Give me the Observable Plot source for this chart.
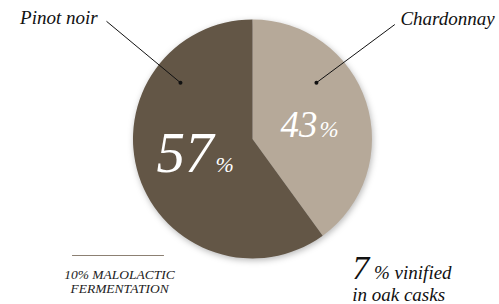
<!DOCTYPE html>
<html><head><meta charset="utf-8">
<script src="https://cdn.jsdelivr.net/npm/d3@7"></script>
<script src="https://cdn.jsdelivr.net/npm/@observablehq/plot@0.6"></script>
<style>html,body{margin:0;padding:0;background:#fff}</style>
</head><body><div id="chart"></div>
<script>
// ---- data ----
const varieties = ["Chardonnay", "Pinot noir"];
const sliceShares = [40, 60];          // slice sizes as drawn in the picture
const pctLabels = ["43", "57"];         // printed percentages
const sliceColors = ["#b6a999", "#635646"];

// callouts (positions in units of pie radius, centre = 0,0)
const calloutNames = ["Pinot noir", "Chardonnay"];
const calloutLabelX = [-1.30, 1.234];
const calloutLabelY = [0.968, 0.962];
const calloutAnchor = ["end", "start"];
const calloutLineX1 = [-1.226, 1.187];
const calloutLineY1 = [0.989, 0.962];
const calloutDotX = [-0.607, 0.531];
const calloutDotY = [0.475, 0.475];

// percentage labels inside the pie
const pctNumX = [0.540, -0.331];
const pctNumY = [0.017, -0.276];
const pctNumSize = [37, 57];
const pctSignSize = [23, 22];

// footnotes
const noteLeftLines = ["10% MALOLACTIC", "FERMENTATION"];
const noteLeftY = [-1.166, -1.285];
const oakShare = "7";
const oakLines = ["% vinified", "in oak casks"];

const slices = varieties.map((v, i) => ({variety: v, share: sliceShares[i], label: pctLabels[i]}));
const color = d3.scaleOrdinal(varieties, sliceColors);

const callouts = calloutNames.map((n, i) => ({name: n, lx: calloutLabelX[i], ly: calloutLabelY[i], anchor: calloutAnchor[i],
  x1: calloutLineX1[i], y1: calloutLineY1[i], x2: calloutDotX[i], y2: calloutDotY[i]}));
const pcts = pctLabels.map((p, i) => ({num: p, x: pctNumX[i], y: pctNumY[i], size: pctNumSize[i], sign: pctSignSize[i]}));
const notes = noteLeftLines.map((t, i) => ({t, y: noteLeftY[i]}));

function pieMark(index, scales) {
  const x = scales.x, y = scales.y;
  const cx = x(0), cy = y(0), r = x(1) - x(0);
  const arcs = d3.pie().sort(null).value(d => d.share)(slices);
  const g = d3.create("svg:g")
    .attr("transform", `translate(${cx},${cy})`)
    .style("filter", "drop-shadow(1px 2px 3px rgba(0,0,0,0.28))");
  g.selectAll("path").data(arcs).join("path")
    .attr("d", d3.arc().innerRadius(0).outerRadius(r))
    .attr("fill", d => color(d.data.variety));
  return g.node();
}

const textCommon = {fontFamily: "Liberation Serif", fontStyle: "italic", lineAnchor: "bottom"};

const plot = Plot.plot({
  width: 499, height: 304, margin: 0,
  x: {domain: [-2.113, 2.063], axis: null},
  y: {domain: [-1.381, 1.163], axis: null},
  marks: [
    pieMark,
    Plot.link(callouts, {x1: "x1", y1: "y1", x2: "x2", y2: "y2", stroke: "#111", strokeWidth: 1}),
    Plot.dot(callouts, {x: "x2", y: "y2", r: 2, fill: "#111"}),
    Plot.text(callouts.filter(d => d.anchor === "end"), {...textCommon, x: "lx", y: "ly", text: "name", textAnchor: "end", fontSize: 19, fill: "#111"}),
    Plot.text(callouts.filter(d => d.anchor === "start"), {...textCommon, x: "lx", y: "ly", text: "name", textAnchor: "start", fontSize: 19, fill: "#111"}),
    ...pcts.map(p => Plot.text([p], {...textCommon, x: "x", y: "y", text: "num", textAnchor: "end", fontSize: p.size, fill: "#fff"})),
    ...pcts.map(p => Plot.text([p], {...textCommon, x: "x", y: "y", text: () => "%", textAnchor: "start", dx: 2, fontSize: p.sign, fill: "#fff"})),
    Plot.ruleY([-0.971], {x1: -1.510, x2: -0.741, stroke: "#8c8073", strokeWidth: 1}),
    Plot.text(notes, {...textCommon, x: () => -1.117, y: "y", text: "t", textAnchor: "middle", fontSize: 13.5, fill: "#222"}),
    Plot.text([oakShare], {...textCommon, x: () => 0.830, y: () => -1.166, text: d => d, textAnchor: "start", fontSize: 34, fill: "#111"}),
    Plot.text([oakLines[0]], {...textCommon, x: () => 1.013, y: () => -1.166, text: d => d, textAnchor: "start", fontSize: 19, fill: "#111"}),
    Plot.text([oakLines[1]], {...textCommon, x: () => 0.830, y: () => -1.352, text: d => d, textAnchor: "start", fontSize: 19, fill: "#111"})
  ]
});
document.getElementById("chart").appendChild(plot);
</script>
</body></html>
